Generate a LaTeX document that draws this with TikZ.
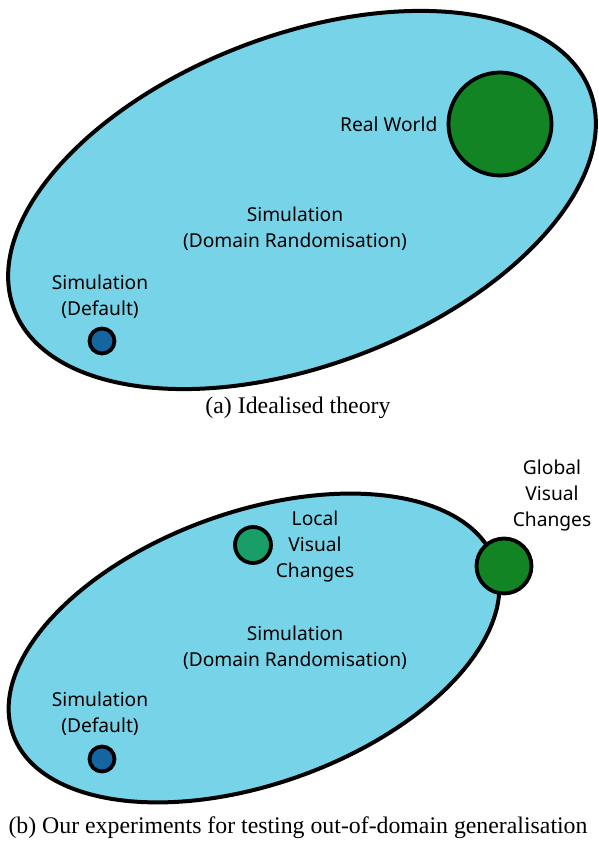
\documentclass[tikz,border=0pt]{standalone}
\usepackage{fontspec}
\setmainfont{Liberation Serif}
\newfontfamily\labelfont{Noto Sans}
\usetikzlibrary{positioning}
\definecolor{simBlue}{HTML}{77D4E8}
\definecolor{worldGreen}{HTML}{128423}
\definecolor{localGreen}{HTML}{189E66}
\definecolor{defaultBlue}{HTML}{1565A0}

\begin{document}
\begin{tikzpicture}[x=1pt,y=1pt,
    region/.style={draw=black,fill=simBlue,line width=4pt},
    blob/.style={circle,draw=black,fill=#1,line width=3.8pt,inner sep=0pt},
    lbl/.style={align=center,inner sep=0pt,font=\labelfont\fontsize{19.2}{26}\selectfont},
    subcap/.style={inner sep=0pt,font=\fontsize{23.8}{26}\selectfont}]
    \useasboundingbox (0,0) rectangle (598,841);
    % (a) idealised theory
    \draw[region,rotate around={20.8:(302,641)}] (302,641) ellipse (308 and 165);
    \node[blob=worldGreen,minimum size=103pt] (world) at (500,717) {};
    \node[lbl,left=9pt of world] (worldlbl) {Real World};
    \node[lbl] (randA) at (295,612) {Simulation\\(Domain Randomisation)};
    \node[lbl] (defA) at (100,544) {Simulation\\(Default)};
    \node[blob=defaultBlue,minimum size=25pt] (dotA) at (102,500) {};
    \node[subcap] (capA) at (298,433) {(a) Idealised theory};
    % (b) out-of-domain tests
    \draw[region,rotate around={19.7:(254,193)}] (254,193) ellipse (256 and 136);
    \node[blob=localGreen,minimum size=36pt] (local) at (253,296) {};
    \node[lbl] (locallbl) at (315,294) {Local\\Visual\\Changes};
    \node[blob=worldGreen,minimum size=55pt] (global) at (504,275) {};
    \node[lbl] (globallbl) at (552,345) {Global\\Visual\\Changes};
    \node[lbl] (randB) at (295,193) {Simulation\\(Domain Randomisation)};
    \node[lbl] (defB) at (100,127) {Simulation\\(Default)};
    \node[blob=defaultBlue,minimum size=25pt] (dotB) at (102,82) {};
    \node[subcap] (capB) at (298,13) {(b) Our experiments for testing out-of-domain generalisation};
\end{tikzpicture}
\end{document}
